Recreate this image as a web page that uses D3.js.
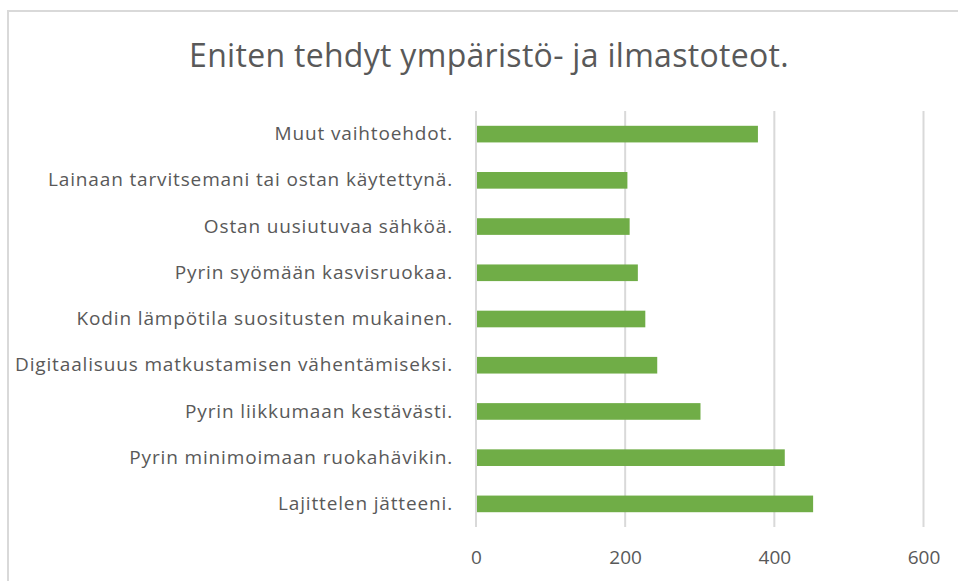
<!DOCTYPE html>
<html>
<head>
<meta charset="utf-8">
<script src="https://cdn.jsdelivr.net/npm/d3@7"></script>
<style>
  body { margin: 0; background: #fff; }
  text { font-family: "Open Sans", Lato, sans-serif; fill: #595959; }
</style>
</head>
<body>
<div id="chart"></div>
<script>
const categories = [
  "Muut vaihtoehdot.",
  "Lainaan tarvitsemani tai ostan käytettynä.",
  "Ostan uusiutuvaa sähköä.",
  "Pyrin syömään kasvisruokaa.",
  "Kodin lämpötila suositusten mukainen.",
  "Digitaalisuus matkustamisen vähentämiseksi.",
  "Pyrin liikkumaan kestävästi.",
  "Pyrin minimoimaan ruokahävikin.",
  "Lajittelen jätteeni."
];
const values = [378, 203, 206, 217, 227, 243, 301, 414, 452];
const xTicks = [0, 200, 400, 600];
const title = "Eniten tehdyt ympäristö- ja ilmastoteot.";

const W = 958, H = 581;
const margin = { top: 111, right: 34, bottom: 54, left: 476 };
const width = W - margin.left - margin.right;
const height = H - margin.top - margin.bottom;

const root = d3.select("#chart").append("svg")
    .attr("width", W)
    .attr("height", H);

// chart area border (only top and left visible in the crop)
root.append("rect")
    .attr("x", 8).attr("y", 11)
    .attr("width", W + 20).attr("height", H + 20)
    .attr("fill", "none")
    .attr("stroke", "#d9d9d9")
    .attr("stroke-width", 2);

root.append("text")
    .attr("x", 489)
    .attr("y", 67)
    .attr("text-anchor", "middle")
    .style("font-size", "32px")
    .style("letter-spacing", "0.3px")
    .text(title);

const svg = root.append("g")
    .attr("transform", `translate(${margin.left},${margin.top})`);

const x = d3.scaleLinear().domain([0, 600]).range([0, 447.5]);
const y = d3.scaleBand().domain(categories).range([0, height]).paddingInner(0.64).paddingOuter(0.32);

// gridlines
svg.append("g")
    .selectAll("line")
    .data(xTicks)
    .join("line")
    .attr("x1", d => x(d)).attr("x2", d => x(d))
    .attr("y1", 0).attr("y2", height)
    .attr("stroke", "#d9d9d9")
    .attr("stroke-width", 2);

svg.selectAll(".bar")
    .data(values)
    .join("rect")
    .attr("class", "bar")
    .attr("x", x(0) + 1)
    .attr("y", (d, i) => y(categories[i]))
    .attr("width", d => x(d) - x(0) - 1)
    .attr("height", y.bandwidth())
    .attr("fill", "#70ad47");

const yAxis = svg.append("g")
    .call(d3.axisLeft(y).tickSize(0).tickPadding(23));
yAxis.select(".domain").remove();
yAxis.selectAll("text")
    .style("font-size", "19px")
    .style("letter-spacing", "0.85px")
    .attr("fill", "#595959");

const xAxis = svg.append("g")
    .attr("transform", `translate(0,${height})`)
    .call(d3.axisBottom(x).tickValues(xTicks).tickSize(0).tickPadding(24));
xAxis.select(".domain").remove();
xAxis.selectAll("text").style("font-size", "19px").attr("fill", "#595959");
</script>
</body>
</html>
